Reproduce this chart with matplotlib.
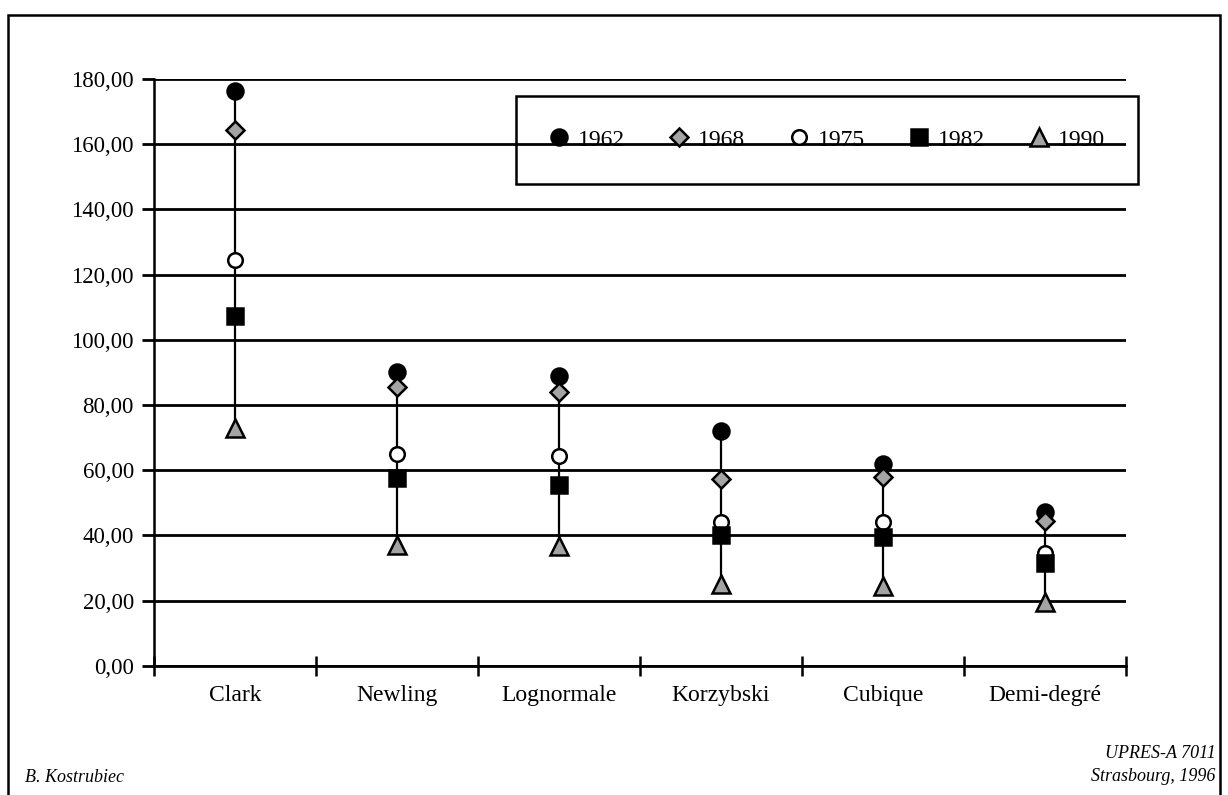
import numpy as np
from matplotlib import pyplot as plt
from matplotlib.patches import Rectangle

plt.rcParams['font.family'] = ['Liberation Serif', 'DejaVu Serif']

# data
categories = ['Clark', 'Newling', 'Lognormale', 'Korzybski', 'Cubique', 'Demi-degré']
years = ['1962', '1968', '1975', '1982', '1990']
v1962 = [176.3, 90.2, 88.9, 72.0, 61.9, 47.3]
v1968 = [164.4, 85.5, 84.0, 57.2, 58.0, 44.4]
v1975 = [124.5, 65.0, 64.3, 44.2, 44.2, 34.6]
v1982 = [107.3, 57.6, 55.4, 40.1, 39.5, 31.5]
v1990 = [72.8, 37.0, 36.8, 25.0, 24.5, 19.5]
y_ticks = [0, 20, 40, 60, 80, 100, 120, 140, 160, 180]
y_tick_labels = ['0,00', '20,00', '40,00', '60,00', '80,00', '100,00',
                 '120,00', '140,00', '160,00', '180,00']

gray = '#a4a4a4'
styles = [
    dict(marker='o', ms=11.5, mfc='black', mec='black'),
    dict(marker='D', ms=9.5, mfc=gray, mec='black'),
    dict(marker='o', ms=10.5, mfc='white', mec='black'),
    dict(marker='s', ms=11.5, mfc='black', mec='black'),
    dict(marker='^', ms=13.5, mfc=gray, mec='black'),
]

fig = plt.figure(figsize=(12.28, 7.95), dpi=100)
ax = fig.add_axes([0.1254, 0.1626, 0.7915, 0.7380])

x = np.arange(len(categories))
series = [v1962, v1968, v1975, v1982, v1990]

# high-low lines
allv = np.array(series)
ax.vlines(x, allv.min(axis=0), allv.max(axis=0), color='black', lw=1.6, zorder=3)

for yr, vals, st in zip(years, series, styles):
    ax.plot(x, vals, ls='none', mew=1.8, label=yr, zorder=4, clip_on=False, **st)

ax.set_xlim(-0.5, len(categories) - 0.5)
ax.set_ylim(0, 180)

ax.set_yticks(y_ticks)
ax.set_yticklabels(y_tick_labels, fontsize=16.5)
ax.yaxis.grid(True, color='black', lw=2.0)
ax.set_axisbelow(True)
ax.tick_params(axis='y', length=8.5, width=2.0, pad=6)

ax.set_xticks(x)
ax.set_xticklabels(categories, fontsize=17)
ax.set_xticks(np.arange(len(categories) + 1) - 0.5, minor=True)
ax.tick_params(axis='x', which='major', length=0, pad=14)
ax.tick_params(axis='x', which='minor', length=14, width=1.8, direction='inout')

for s in ['top', 'right']:
    ax.spines[s].set_visible(False)
ax.spines['left'].set_linewidth(1.8)
ax.spines['bottom'].set_linewidth(2.0)

leg = ax.legend(loc='center', bbox_to_anchor=(0.4203, 0.8239, 0.5065, 0.0),
                bbox_transform=fig.transFigure, mode='expand', ncol=5,
                fontsize=17, frameon=True, fancybox=False, edgecolor='black',
                framealpha=1, borderpad=1.4, handlelength=0.8, handletextpad=0.4,
                borderaxespad=0)
leg.get_frame().set_facecolor('none')
leg.get_frame().set_linewidth(1.8)

# outer frame
fig.patches.append(Rectangle((0.0065, -0.1), 0.987, 1.081, transform=fig.transFigure,
                             fill=False, edgecolor='black', lw=1.8))

fig.text(0.02, 0.022, 'B. Kostrubiec', fontsize=13, style='italic', ha='left', va='center')
fig.text(0.990, 0.052, 'UPRES-A 7011', fontsize=13, style='italic', ha='right', va='center')
fig.text(0.990, 0.023, 'Strasbourg, 1996', fontsize=13, style='italic', ha='right', va='center')

fig.savefig('out.png', dpi=100)
